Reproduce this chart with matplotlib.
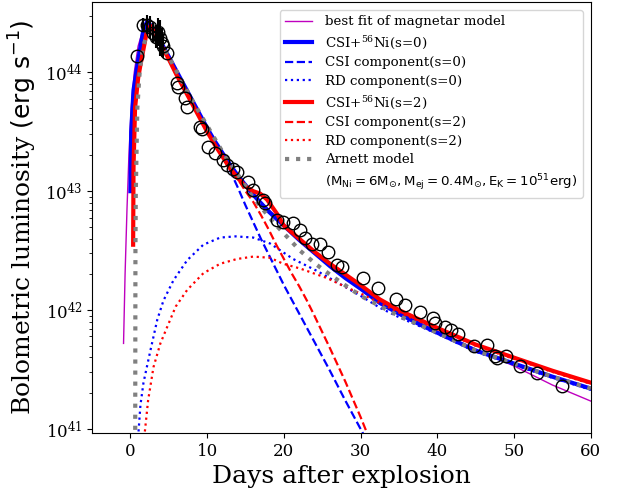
import numpy as np
import matplotlib
matplotlib.use('Agg')
import matplotlib.pyplot as plt

plt.rcParams['font.family'] = 'DejaVu Serif'
plt.rcParams['mathtext.fontset'] = 'dejavusans'

# observed bolometric light curve (days, log10 L)
obs_day = [0.91, 6.12, 6.25, 7.16, 7.42, 9.11, 9.37, 10.15, 11.06, 12.10, 12.63,
           13.41, 13.93, 15.36, 16.01, 17.31, 17.57, 19.13, 19.91, 21.22, 22.13,
           22.78, 23.69, 24.73, 25.77, 26.94, 27.59, 30.33, 32.28, 34.62, 35.79,
           37.75, 39.44, 39.70, 41.00, 41.78, 42.69, 44.77, 46.47, 47.51, 47.77,
           48.94, 50.76, 52.97, 56.23]
obs_logL = [44.14, 43.91, 43.88, 43.78, 43.71, 43.54, 43.52, 43.37, 43.32, 43.26, 43.22,
            43.19, 43.16, 43.08, 43.01, 42.93, 42.90, 42.76, 42.74, 42.73, 42.67,
            42.61, 42.56, 42.56, 42.49, 42.38, 42.36, 42.27, 42.19, 42.09, 42.04,
            41.98, 41.93, 41.89, 41.86, 41.83, 41.80, 41.70, 41.71, 41.61, 41.60,
            41.61, 41.53, 41.47, 41.36]
# points near peak with error bars
peak_day = [1.7, 2.2, 2.6, 3.0, 3.3, 3.6, 3.9, 4.1, 4.3, 4.8]
peak_logL = [44.40, 44.40, 44.38, 44.33, 44.30, 44.34, 44.29, 44.25, 44.22, 44.16]
peak_err = [0.06, 0.08, 0.09, 0.08, 0.10, 0.12, 0.15, 0.12, 0.10, 0.0]

# best fit of magnetar model
mag_day = [-0.9, -0.7, -0.45, -0.2, 0.1, 0.5, 1.0, 1.6, 2.2, 2.8, 3.5, 4.5, 5.5, 7, 9,
           11, 13, 15, 17, 20, 23, 26, 29, 32.5, 36, 40, 45, 50, 55, 60]
mag_logL = [41.72, 42.3, 42.85, 43.3, 43.7, 44.0, 44.22, 44.35, 44.40, 44.38, 44.30,
            44.17, 44.04, 43.85, 43.62, 43.41, 43.22, 43.06, 42.91, 42.72, 42.54,
            42.38, 42.23, 42.09, 41.95, 41.82, 41.67, 41.53, 41.37, 41.235]

# CSI+56Ni, s=0
s0_day = [0.0, 0.1, 0.4, 1.0, 1.7, 2.2, 3, 4, 5, 6, 7, 8, 9, 10, 11, 12, 13, 14, 15,
          16, 17, 18, 19, 20, 22, 24, 26, 28, 30, 32.5, 35, 38, 40, 45, 50, 55, 60]
s0_logL = [43.0, 43.5, 43.85, 44.1, 44.36, 44.43, 44.36, 44.25, 44.13, 44.01, 43.89,
           43.77, 43.65, 43.53, 43.42, 43.32, 43.22, 43.13, 43.05, 42.97, 42.90,
           42.83, 42.77, 42.71, 42.59, 42.48, 42.37, 42.27, 42.18, 42.06, 41.97,
           41.87, 41.81, 41.66, 41.55, 41.44, 41.34]
csi0_day = [0.0, 0.1, 0.4, 1.0, 1.7, 2.2, 3, 4, 5, 6, 7, 8, 9, 10, 11, 12, 13, 14, 15,
            16, 17, 18, 19, 20, 21, 22, 24, 26, 28, 30, 30.5]
csi0_logL = [43.0, 43.5, 43.85, 44.1, 44.36, 44.43, 44.36, 44.25, 44.13, 44.01, 43.89,
             43.77, 43.65, 43.53, 43.42, 43.31, 43.17, 43.03, 42.88, 42.74, 42.60,
             42.47, 42.34, 42.21, 42.09, 41.97, 41.73, 41.49, 41.24, 41.00, 40.94]
rd0_day = [1.0, 1.3, 1.7, 2.6, 3.5, 4.3, 5.6, 7.4, 9.5, 11.7, 13.7, 16.0, 18.2, 21.2,
           24.3, 27.3, 30, 32.5, 35, 40, 45, 50, 55, 60]
rd0_logL = [40.93, 41.2, 41.39, 41.66, 41.92, 42.08, 42.25, 42.42, 42.55, 42.61, 42.62,
            42.61, 42.56, 42.43, 42.33, 42.22, 42.12, 42.02, 41.94, 41.80, 41.65,
            41.54, 41.43, 41.33]

# CSI+56Ni, s=2
s2_day = [0.35, 0.4, 0.6, 1.0, 1.3, 2.1, 2.6, 3, 4, 5, 6, 7, 8, 9, 10, 11, 12, 13, 14,
          15, 16, 16.9, 17.8, 19.1, 20, 22, 24, 26, 28, 30, 32.5, 35, 40, 45, 50, 55, 60]
s2_logL = [42.55, 43.2, 43.7, 43.95, 44.06, 44.33, 44.39, 44.35, 44.23, 44.11, 43.98,
           43.86, 43.74, 43.62, 43.50, 43.39, 43.29, 43.19, 43.11, 43.04, 43.00,
           42.98, 42.93, 42.81, 42.71, 42.60, 42.49, 42.39, 42.30, 42.21, 42.09,
           42.00, 41.85, 41.71, 41.60, 41.49, 41.39]
csi2_day = [0.35, 0.4, 0.6, 1.0, 1.3, 2.1, 2.6, 3, 4, 5, 6, 7, 8, 9, 10, 11, 12, 13, 14,
            15, 16, 17, 18, 19, 20, 21, 22, 23, 24, 26, 28, 30, 31]
csi2_logL = [42.55, 43.2, 43.7, 43.95, 44.06, 44.33, 44.39, 44.35, 44.23, 44.11, 43.98,
             43.86, 43.74, 43.62, 43.50, 43.39, 43.29, 43.19, 43.10, 43.00, 42.91,
             42.80, 42.68, 42.55, 42.43, 42.31, 42.20, 42.08, 41.95, 41.68, 41.40,
             41.10, 40.94]
rd2_day = [1.8, 2.3, 3.0, 3.9, 4.8, 5.9, 7.4, 9.5, 11.7, 13.9, 16.0, 18.2, 19.9, 22.1,
           25.6, 28.2, 30, 32.5, 35, 40, 45, 50, 55, 60]
rd2_logL = [40.93, 41.24, 41.52, 41.72, 41.86, 42.03, 42.17, 42.31, 42.39, 42.43, 42.45,
            42.44, 42.39, 42.35, 42.27, 42.19, 42.14, 42.06, 41.98, 41.84, 41.70,
            41.59, 41.48, 41.38]

# Arnett model
arn_day = [0.62, 0.65, 0.7, 0.9, 1.2, 1.6, 2.2, 2.8, 3.2, 4, 5, 6, 7, 8, 9, 10, 12, 14,
           15.6, 18.6, 20.8, 22.1, 24.3, 26.4, 30, 35, 40, 45, 50, 55, 60]
arn_logL = [40.9, 42.5, 43.0, 43.7, 44.0, 44.2, 44.33, 44.37, 44.35, 44.25, 44.13,
            44.01, 43.89, 43.77, 43.66, 43.55, 43.33, 43.14, 42.98, 42.74, 42.59,
            42.50, 42.38, 42.28, 42.12, 41.95, 41.81, 41.66, 41.55, 41.44, 41.34]


def L(v):
    return 10 ** np.array(v)


fig = plt.figure(figsize=(6.18, 4.91), dpi=100)
ax = fig.add_axes([0.149, 0.118, 0.807, 0.878])

ax.plot(mag_day, L(mag_logL), color='m', lw=1, label='best fit of magnetar model')
ax.plot(s0_day, L(s0_logL), color='b', lw=3, label=r'CSI+$^{\mathdefault{56}}$Ni(s=0)')
ax.plot(csi0_day, L(csi0_logL), color='b', ls='--', lw=1.6, label='CSI component(s=0)')
ax.plot(rd0_day, L(rd0_logL), color='b', ls=':', lw=1.6, label='RD component(s=0)')
ax.plot(s2_day, L(s2_logL), color='r', lw=3, label=r'CSI+$^{\mathdefault{56}}$Ni(s=2)')
ax.plot(csi2_day, L(csi2_logL), color='r', ls='--', lw=1.6, label='CSI component(s=2)')
ax.plot(rd2_day, L(rd2_logL), color='r', ls=':', lw=1.6, label='RD component(s=2)')
ax.plot(arn_day, L(arn_logL), color='gray', ls=':', lw=3, label='Arnett model')
ax.plot([], [], ' ',
        label=r'$(\mathrm{M_{Ni}=6M_{\odot},M_{ej}=0.4M_{\odot},E_{K}=10^{51}erg})$')

# observations
lo = L(peak_logL) - L(np.array(peak_logL) - np.array(peak_err))
hi = L(np.array(peak_logL) + np.array(peak_err)) - L(peak_logL)
ax.errorbar(peak_day, L(peak_logL), yerr=[lo, hi], fmt='o', mfc='none', mec='k',
            ecolor='k', ms=9, mew=1, elinewidth=1.5, capsize=0)
ax.plot(obs_day, L(obs_logL), 'o', mfc='none', mec='k', ms=9, mew=1)

ax.set_yscale('log')
ax.set_xlim(-5, 60)
ax.set_ylim(9.25e40, 3.9e44)
ax.tick_params(labelsize=12)
ax.set_xlabel('Days after explosion', fontsize=18)
ax.set_ylabel(r'Bolometric luminosity $(\rm erg\ s^{-1})$', fontsize=18)
ax.legend(loc='upper right', fontsize=9.6, labelspacing=0.42, handletextpad=1.0,
          borderaxespad=0.6)

plt.savefig('out.png', dpi=100)
